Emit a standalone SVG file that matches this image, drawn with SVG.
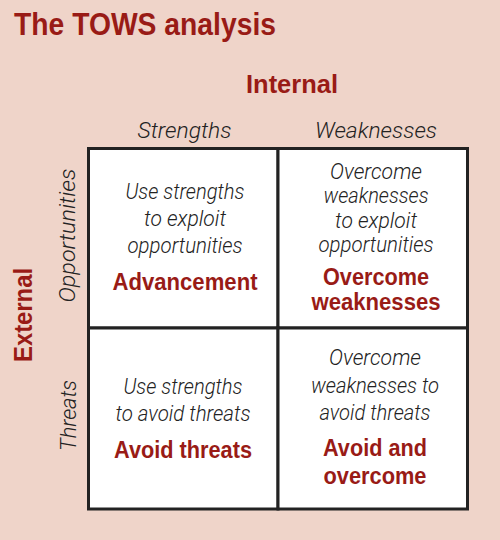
<svg xmlns="http://www.w3.org/2000/svg" width="500" height="540" viewBox="0 0 500 540">
<style>
.bg{fill:#efd4c9}
.cell{fill:#ffffff;stroke:#222222;stroke-width:3}
.red{font-family:"Liberation Sans",Arial,sans-serif;font-weight:bold;fill:#991b16}
.it{font-family:Roboto,"Liberation Sans",Arial,sans-serif;font-style:italic;font-weight:300;fill:#222222;font-size:22.5px}
.b22{font-size:23px;text-anchor:middle}
.mid{text-anchor:middle}
</style>
<rect class="bg" x="0" y="0" width="500" height="540"/>
<g id="title"><text class="red" x="14" y="35" font-size="31" textLength="262" lengthAdjust="spacingAndGlyphs">The TOWS analysis</text></g>
<g id="internal"><text class="red mid" x="292" y="93" font-size="26" textLength="92" lengthAdjust="spacingAndGlyphs">Internal</text></g>
<g id="external"><text class="red mid" transform="translate(31.5,315) rotate(-90)" x="0" y="0" font-size="26" textLength="94" lengthAdjust="spacingAndGlyphs">External</text></g>
<g id="col-strengths"><text class="it mid" x="184.5" y="138" font-size="24.5" textLength="94" lengthAdjust="spacingAndGlyphs">Strengths</text></g>
<g id="col-weaknesses"><text class="it mid" x="376" y="138" font-size="24.5" textLength="122" lengthAdjust="spacingAndGlyphs">Weaknesses</text></g>
<g id="row-opportunities"><text class="it mid" transform="translate(75,235.5) rotate(-90)" x="0" y="0" font-size="24.5" textLength="134" lengthAdjust="spacingAndGlyphs">Opportunities</text></g>
<g id="row-threats"><text class="it mid" transform="translate(76,415.5) rotate(-90)" x="0" y="0" font-size="24.5" textLength="71" lengthAdjust="spacingAndGlyphs">Threats</text></g>
<g id="connectors"></g>
<g id="cell-so">
<rect class="cell" x="88.5" y="148.5" width="189.5" height="179.5"/>
<text class="it mid" x="185" y="198.5" textLength="119" lengthAdjust="spacingAndGlyphs">Use strengths</text>
<text class="it mid" x="185" y="226" textLength="82" lengthAdjust="spacingAndGlyphs">to exploit</text>
<text class="it mid" x="185" y="253" textLength="115" lengthAdjust="spacingAndGlyphs">opportunities</text>
<text class="red b22" x="185" y="290" textLength="145" lengthAdjust="spacingAndGlyphs">Advancement</text>
</g>
<g id="cell-wo">
<rect class="cell" x="278" y="148.5" width="189.5" height="179.5"/>
<text class="it mid" x="376" y="178.5" textLength="92" lengthAdjust="spacingAndGlyphs">Overcome</text>
<text class="it mid" x="376" y="203" textLength="105" lengthAdjust="spacingAndGlyphs">weaknesses</text>
<text class="it mid" x="376" y="227.5" textLength="82" lengthAdjust="spacingAndGlyphs">to exploit</text>
<text class="it mid" x="376" y="252" textLength="115" lengthAdjust="spacingAndGlyphs">opportunities</text>
<text class="red b22" x="376" y="285" textLength="106" lengthAdjust="spacingAndGlyphs">Overcome</text>
<text class="red b22" x="376" y="310" textLength="129" lengthAdjust="spacingAndGlyphs">weaknesses</text>
</g>
<g id="cell-st">
<rect class="cell" x="88.5" y="328" width="189.5" height="181"/>
<text class="it mid" x="183" y="393.5" textLength="119" lengthAdjust="spacingAndGlyphs">Use strengths</text>
<text class="it mid" x="183" y="421" textLength="135" lengthAdjust="spacingAndGlyphs">to avoid threats</text>
<text class="red b22" x="183" y="457.5" textLength="138" lengthAdjust="spacingAndGlyphs">Avoid threats</text>
</g>
<g id="cell-wt">
<rect class="cell" x="278" y="328" width="189.5" height="181"/>
<text class="it mid" x="375" y="365" textLength="92" lengthAdjust="spacingAndGlyphs">Overcome</text>
<text class="it mid" x="375" y="392.5" textLength="128" lengthAdjust="spacingAndGlyphs">weaknesses to</text>
<text class="it mid" x="375" y="420" textLength="111" lengthAdjust="spacingAndGlyphs">avoid threats</text>
<text class="red b22" x="375" y="456" textLength="104" lengthAdjust="spacingAndGlyphs">Avoid and</text>
<text class="red b22" x="375" y="483.5" textLength="103" lengthAdjust="spacingAndGlyphs">overcome</text>
</g>
</svg>
